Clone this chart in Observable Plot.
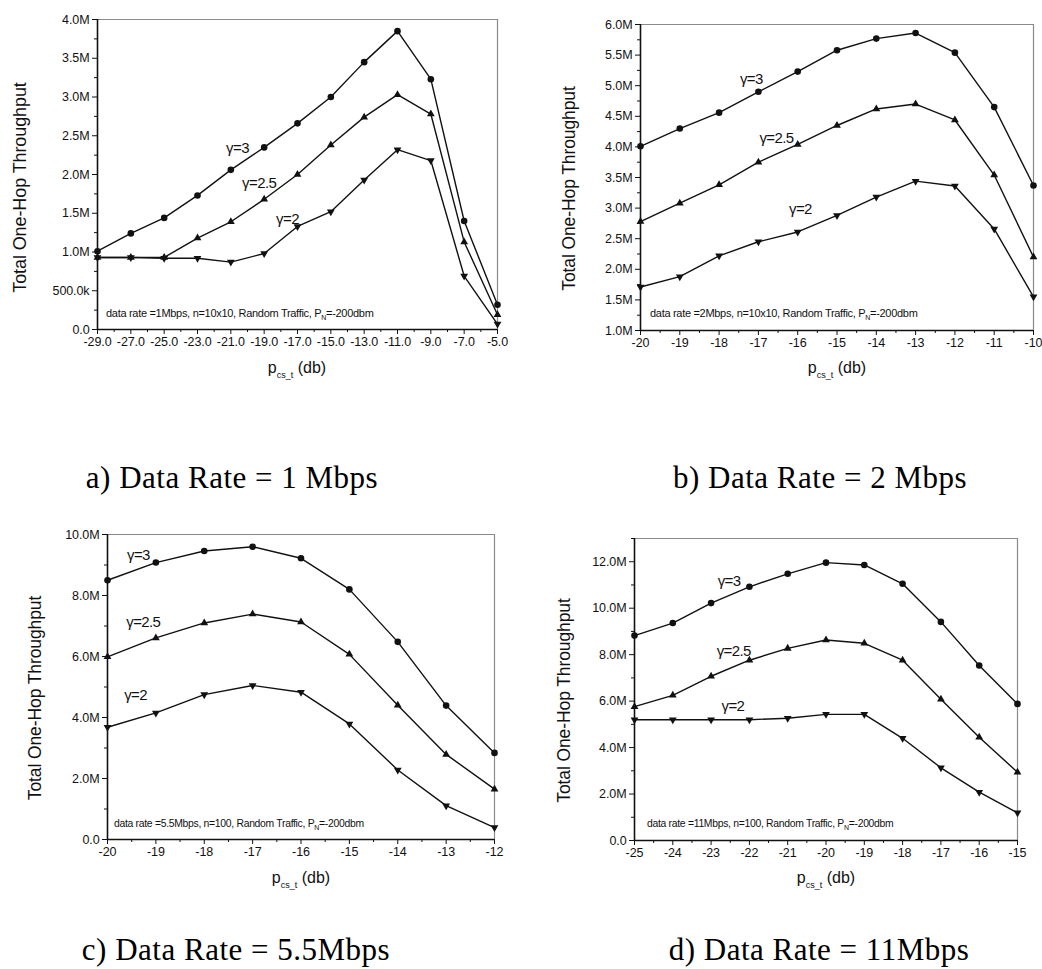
<!DOCTYPE html>
<html><head><meta charset="utf-8">
<script src="https://cdn.jsdelivr.net/npm/d3@7"></script>
<script src="https://cdn.jsdelivr.net/npm/@observablehq/plot@0.6"></script>
<style>
body{margin:0;background:#fff;}
#page{position:relative;width:1042px;height:969px;overflow:hidden;background:#fff;font-family:"Liberation Sans",Arial,sans-serif;color:#111;}
.panel{position:absolute;}
.panel svg text{letter-spacing:-0.1px;}
.panel svg g[aria-label="x-axis tick label"], .panel svg g[aria-label="y-axis tick label"]{font-size:12.5px !important;}
.panel svg .glab text{letter-spacing:-0.6px;}
.cap{position:absolute;font-family:"Liberation Serif","Times New Roman",serif;font-size:31px;line-height:31px;letter-spacing:0.5px;white-space:nowrap;transform:translateX(-50%);color:#000;}
.xl{position:absolute;font-size:16px;line-height:16px;white-space:nowrap;transform:translateX(-50%);}
.xl sub{font-size:9px;vertical-align:baseline;position:relative;top:5px;}
.ann{position:absolute;line-height:11px;white-space:nowrap;letter-spacing:-0.3px;}
.ann sub{font-size:7px;vertical-align:baseline;position:relative;top:3px;}
</style></head>
<body><div id="page"></div>
<script>
// ---------- DATA ----------
// a) Data Rate = 1 Mbps  (throughput in M)
const xA = [-29,-27,-25,-23,-21,-19,-17,-15,-13,-11,-9,-7,-5];
const a_g3  = [1.01,1.24,1.44,1.73,2.06,2.35,2.66,3.00,3.45,3.85,3.23,1.40,0.32];
const a_g25 = [0.93,0.93,0.93,1.18,1.39,1.68,2.00,2.38,2.74,3.03,2.78,1.13,0.19];
const a_g2  = [0.93,0.93,0.92,0.92,0.87,0.98,1.33,1.52,1.93,2.32,2.18,0.69,0.07];
const xTicksA = [-29,-27,-25,-23,-21,-19,-17,-15,-13,-11,-9,-7,-5];
const yTicksA = [0,0.5,1,1.5,2,2.5,3,3.5,4];

// b) Data Rate = 2 Mbps
const xB = [-20,-19,-18,-17,-16,-15,-14,-13,-12,-11,-10];
const b_g3  = [4.01,4.30,4.56,4.90,5.23,5.58,5.77,5.86,5.54,4.65,3.37];
const b_g25 = [2.78,3.08,3.38,3.75,4.04,4.35,4.62,4.70,4.44,3.54,2.20];
const b_g2  = [1.71,1.88,2.22,2.45,2.61,2.88,3.18,3.44,3.36,2.66,1.55];
const xTicksB = [-20,-19,-18,-17,-16,-15,-14,-13,-12,-11,-10];
const yTicksB = [1,1.5,2,2.5,3,3.5,4,4.5,5,5.5,6];

// c) Data Rate = 5.5 Mbps
const xC = [-20,-19,-18,-17,-16,-15,-14,-13,-12];
const c_g3  = [8.50,9.08,9.46,9.60,9.22,8.20,6.48,4.39,2.84];
const c_g25 = [5.99,6.61,7.10,7.39,7.13,6.07,4.40,2.79,1.65];
const c_g2  = [3.68,4.15,4.75,5.05,4.83,3.79,2.28,1.11,0.39];
const xTicksC = [-20,-19,-18,-17,-16,-15,-14,-13,-12];
const yTicksC = [0,2,4,6,8,10];

// d) Data Rate = 11 Mbps
const xD = [-25,-24,-23,-22,-21,-20,-19,-18,-17,-16,-15];
const d_g3  = [8.82,9.36,10.22,10.92,11.48,11.96,11.86,11.05,9.41,7.53,5.88];
const d_g25 = [5.76,6.25,7.07,7.76,8.27,8.63,8.49,7.76,6.08,4.44,2.94];
const d_g2  = [5.20,5.20,5.20,5.20,5.26,5.43,5.43,4.40,3.13,2.08,1.19];
const xTicksD = [-25,-24,-23,-22,-21,-20,-19,-18,-17,-16,-15];
const yTicksD = [0,2,4,6,8,10,12];

// series labels (anchored in data units)
const gammaNames = ["γ=3","γ=2.5","γ=2"];
const labA = [[-20.6,2.34],[-19.3,1.89],[-17.6,1.42]];
const labB = [[-17.18,5.10],[-16.54,4.15],[-15.93,2.99]];
const labC = [[-19.36,9.31],[-19.26,7.12],[-19.42,4.72]];
const labD = [[-22.53,11.15],[-22.41,8.17],[-22.43,5.78]];

const yTitle = "Total One-Hop Throughput";
const captions = ["a) Data Rate = 1 Mbps","b) Data Rate = 2 Mbps","c) Data Rate = 5.5Mbps","d) Data Rate = 11Mbps"];
const notes = [
  ["data rate =1Mbps, n=10x10, Random Traffic, P","N","=-200dbm"],
  ["data rate =2Mbps, n=10x10, Random Traffic, P","N","=-200dbm"],
  ["data rate =5.5Mbps, n=100, Random Traffic, P","N","=-200dbm"],
  ["data rate =11Mbps, n=100, Random Traffic, P","N","=-200dbm"]
];

// ---------- LAYOUT ----------
const fmtY = v => v === 0 ? "0.0" : (v < 1 ? (v*1000).toFixed(1) + "k" : v.toFixed(1) + "M");
const panels = [
  {left:0,   top:0,   w:520, h:360, mt:19, mr:23, mb:31, ml:97,  xs:xA, s:[a_g3,a_g25,a_g2], xT:xTicksA, yT:yTicksA,
   xMinorStep:1, yMinorStep:0.25, xDom:[-29,-5], yDom:[0,4], xf:v=>v.toFixed(1), lab:labA, tdx:-77, tdy:13, tfs:18,
   cap:[232,462], xl:[297,360], ann:[106,308,11]},
  {left:520, top:0,   w:522, h:360, mt:24, mr:9,  mb:30, ml:120, xs:xB, s:[b_g3,b_g25,b_g2], xT:xTicksB, yT:yTicksB,
   xMinorStep:0.5, yMinorStep:0.25, xDom:[-20,-10], yDom:[1,6], xf:v=>String(v), lab:labB, tdx:-71, tdy:11, tfs:17.5,
   cap:[820,462], xl:[837,360], ann:[650,308,11]},
  {left:0,   top:500, w:520, h:370, mt:34, mr:26, mb:31, ml:107, xs:xC, s:[c_g3,c_g25,c_g2], xT:xTicksC, yT:yTicksC,
   xMinorStep:0.5, yMinorStep:1, xDom:[-20,-12], yDom:[0,10], xf:v=>String(v), lab:labC, tdx:-72, tdy:11, tfs:17.5,
   cap:[236,934], xl:[301,870], ann:[114,818,10.4]},
  {left:520, top:500, w:522, h:370, mt:38, mr:25, mb:30, ml:114, xs:xD, s:[d_g3,d_g25,d_g2], xT:xTicksD, yT:yTicksD,
   xMinorStep:0.5, yMinorStep:1, xDom:[-25,-15], yDom:[0,13], xf:v=>String(v), lab:labD, tdx:-70, tdy:11, tfs:17.5,
   cap:[819,934], xl:[826,870], ann:[647,818,10.4]}
];

const page = document.getElementById("page");
const symbols = [{symbol:"circle", r:3.3, rotate:0},{symbol:"triangle", r:2.9, rotate:0},{symbol:"triangle", r:2.9, rotate:180}];

panels.forEach((p, k) => {
  const series = p.s.map(ys => p.xs.map((x, i) => ({x, y: ys[i]})));
  const xMinor = d3.range(p.xDom[0], p.xDom[1] + 1e-9, p.xMinorStep).filter(v => !p.xT.some(t => Math.abs(t - v) < 1e-9));
  const yMinor = d3.range(p.yDom[0], p.yDom[1] + 1e-9, p.yMinorStep).filter(v => !p.yT.some(t => Math.abs(t - v) < 1e-9));
  const labels = p.lab.map((d, i) => ({x: d[0], y: d[1], t: gammaNames[i]}));
  const marks = [
    Plot.ruleY([p.yDom[1]], {stroke: "#8a8a8a", strokeWidth: 1}),
    Plot.ruleX([p.xDom[1]], {stroke: "#8a8a8a", strokeWidth: 1.2}),
    Plot.axisY(yMinor, {anchor: "left", tickSize: 3, tickFormat: () => "", strokeWidth: 1}),
    Plot.axisY(p.yT, {anchor: "left", tickSize: 5, tickPadding: 3, tickFormat: fmtY, fontSize: 12.5, strokeWidth: 1}),
    Plot.axisX(xMinor, {anchor: "bottom", tickSize: 3, tickFormat: () => "", strokeWidth: 1}),
    Plot.axisX(p.xT, {anchor: "bottom", tickSize: 5, tickPadding: 3, tickFormat: p.xf, fontSize: 12.5, strokeWidth: 1}),
    Plot.ruleY([p.yDom[0]], {stroke: "#111", strokeWidth: 1.6}),
    Plot.ruleX([p.xDom[0]], {stroke: "#111", strokeWidth: 1.6}),
    ...series.map(d => Plot.line(d, {x: "x", y: "y", stroke: "#111", strokeWidth: 1.4})),
    ...series.map((d, i) => Plot.dot(d, {x: "x", y: "y", fill: "#111", stroke: "none", symbol: symbols[i].symbol, r: symbols[i].r, rotate: symbols[i].rotate})),
    Plot.text(labels, {x: "x", y: "y", text: "t", fontSize: 15, textAnchor: "middle", lineAnchor: "middle", className: "glab"}),
    Plot.text([yTitle], {frameAnchor: "left", dx: p.tdx, dy: p.tdy, rotate: -90, fontSize: p.tfs, textAnchor: "middle", lineAnchor: "middle"})
  ];
  const svg = Plot.plot({
    width: p.w, height: p.h,
    marginTop: p.mt, marginRight: p.mr, marginBottom: p.mb, marginLeft: p.ml,
    x: {domain: p.xDom, label: null},
    y: {domain: p.yDom, label: null},
    style: {fontFamily: "'Liberation Sans', Arial, sans-serif", fontSize: "12px", color: "#111", background: "transparent", overflow: "visible"},
    marks
  });
  const div = document.createElement("div");
  div.className = "panel";
  div.style.left = p.left + "px"; div.style.top = p.top + "px";
  div.style.width = p.w + "px"; div.style.height = p.h + "px";
  div.appendChild(svg);
  page.appendChild(div);
});

panels.forEach((p, k) => {
  const xl = document.createElement("div");
  xl.className = "xl";
  xl.style.left = p.xl[0] + "px"; xl.style.top = p.xl[1] + "px";
  xl.innerHTML = "p<sub>cs_t</sub> (db)";
  page.appendChild(xl);

  const an = document.createElement("div");
  an.className = "ann";
  an.style.left = p.ann[0] + "px"; an.style.top = p.ann[1] + "px"; an.style.fontSize = p.ann[2] + "px";
  an.innerHTML = notes[k][0] + "<sub>" + notes[k][1] + "</sub>" + notes[k][2];
  page.appendChild(an);

  const cap = document.createElement("div");
  cap.className = "cap";
  cap.style.left = p.cap[0] + "px"; cap.style.top = p.cap[1] + "px";
  cap.textContent = captions[k];
  page.appendChild(cap);
});
</script>
</body></html>
